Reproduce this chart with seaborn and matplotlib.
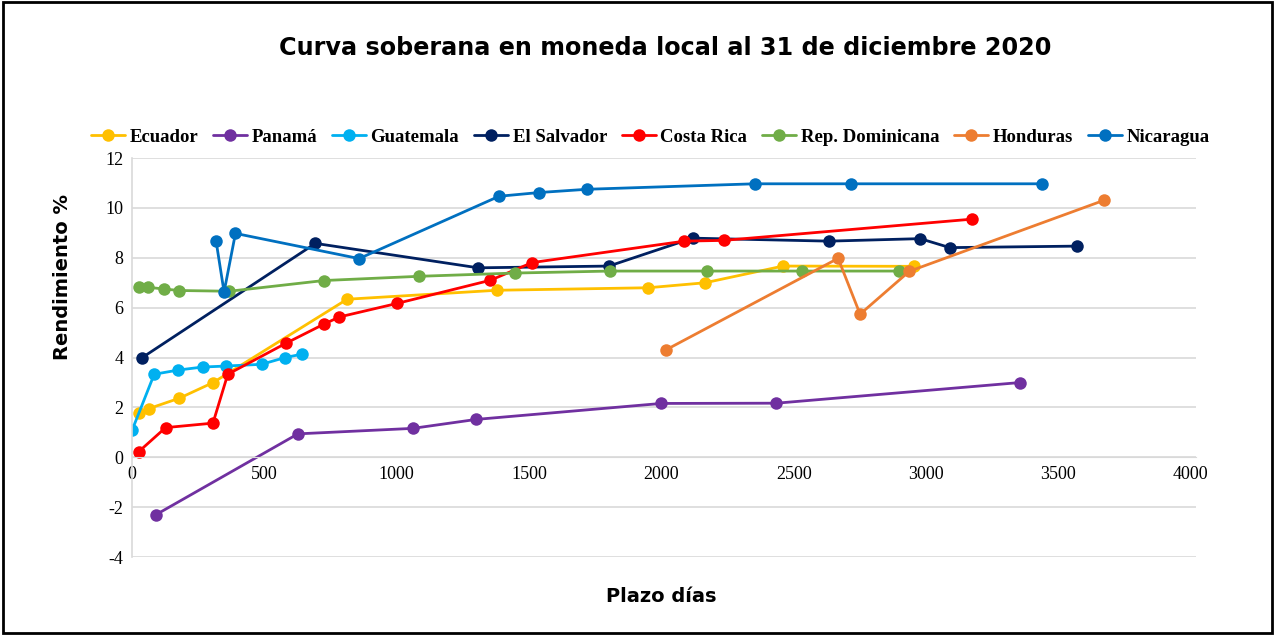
import seaborn as sns
import pandas as pd
import matplotlib.pyplot as plt
from matplotlib.patches import Rectangle

paises = ["Ecuador", "Panamá", "Guatemala", "El Salvador", "Costa Rica",
          "Rep. Dominicana", "Honduras", "Nicaragua"]
colores = ["#FFC000", "#7030A0", "#00B0F0", "#002060", "#FF0000",
           "#70AD47", "#ED7D31", "#0070C0"]

ecuador_x = [28, 63, 179, 307, 813, 1379, 1950, 2165, 2460, 2954]
ecuador_y = [1.77, 1.95, 2.37, 3.0, 6.34, 6.7, 6.8, 7.0, 7.67, 7.66]
panama_x = [91, 627, 1061, 1301, 2000, 2435, 3357]
panama_y = [-2.3, 0.94, 1.16, 1.52, 2.16, 2.17, 3.0]
guatemala_x = [1, 84, 175, 267, 355, 490, 578, 644]
guatemala_y = [1.1, 3.33, 3.5, 3.62, 3.66, 3.73, 4.0, 4.14]
salvador_x = [39, 693, 1308, 1802, 2118, 2633, 2978, 3090, 3569]
salvador_y = [4.0, 8.58, 7.6, 7.67, 8.79, 8.67, 8.77, 8.41, 8.47]
costarica_x = [26, 127, 306, 362, 581, 725, 784, 1001, 1354, 1512, 2087, 2236, 3172]
costarica_y = [0.23, 1.19, 1.37, 3.33, 4.57, 5.34, 5.63, 6.17, 7.1, 7.81, 8.67, 8.7, 9.55]
dominicana_x = [28, 60, 121, 179, 368, 725, 1086, 1447, 1807, 2171, 2533, 2897]
dominicana_y = [6.83, 6.82, 6.75, 6.69, 6.66, 7.09, 7.26, 7.39, 7.47, 7.47, 7.47, 7.47]
honduras_x = [2016, 2668, 2751, 2937, 3673]
honduras_y = [4.3, 7.98, 5.74, 7.46, 10.31]
nicaragua_x = [318, 348, 391, 858, 1387, 1539, 1719, 2353, 2715, 3437]
nicaragua_y = [8.66, 6.63, 8.98, 7.97, 10.47, 10.62, 10.75, 10.97, 10.97, 10.97]

series_x = [ecuador_x, panama_x, guatemala_x, salvador_x, costarica_x,
            dominicana_x, honduras_x, nicaragua_x]
series_y = [ecuador_y, panama_y, guatemala_y, salvador_y, costarica_y,
            dominicana_y, honduras_y, nicaragua_y]

filas = []
for p, xs, ys in zip(paises, series_x, series_y):
    for x, y in zip(xs, ys):
        filas.append({"País": p, "Plazo": x, "Rendimiento": y})
df = pd.DataFrame(filas)

sns.set_style("white")
plt.rcParams['font.family'] = ['DejaVu Sans']
plt.rcParams['axes.unicode_minus'] = False
plt.rcParams['text.color'] = 'black'
plt.rcParams['xtick.color'] = 'black'
plt.rcParams['ytick.color'] = 'black'

fig = plt.figure(figsize=(12.75, 6.35), dpi=100)
ax = fig.add_axes([0.1035, 0.1228, 0.8345, 0.6282])

sns.lineplot(data=df, x="Plazo", y="Rendimiento", hue="País", hue_order=paises,
             palette=dict(zip(paises, colores)), sort=False, estimator=None,
             marker="o", markersize=9, markeredgewidth=0, linewidth=2.0, ax=ax)

ax.set_xlim(0, 4020)
ax.set_ylim(-4, 12)
ax.set_yticks(range(-4, 13, 2))
ax.set_xticks(range(0, 4001, 500))
ax.grid(axis="y", color="#D9D9D9", linewidth=1.2)
ax.set_axisbelow(True)
for s in ["top", "right"]:
    ax.spines[s].set_visible(False)
ax.spines["bottom"].set_position(("data", 0))
ax.spines["bottom"].set_color("#D9D9D9")
ax.spines["left"].set_color("#D9D9D9")
ax.spines["left"].set_linewidth(1.2)
ax.tick_params(length=0, pad=6)
for lbl in ax.get_xticklabels() + ax.get_yticklabels():
    lbl.set_fontfamily("Liberation Serif")
    lbl.set_fontsize(13)
ax.set_xlabel("")
ax.set_ylabel("")

fig.text(0.522, 0.925, "Curva soberana en moneda local al 31 de diciembre 2020",
         ha="center", va="center", fontsize=17.2, fontweight="bold")
fig.text(0.049, 0.563, "Rendimiento %", rotation=90, ha="center", va="center",
         fontsize=14, fontweight="bold")
fig.text(0.519, 0.06, "Plazo días", ha="center", va="center",
         fontsize=14, fontweight="bold")

handles, labels = ax.get_legend_handles_labels()
ax.legend_.remove()
fig.legend(handles, labels, loc="center", bbox_to_anchor=(0.51, 0.784), ncol=8,
           frameon=False, handlelength=1.8, handletextpad=0.25, columnspacing=0.8,
           prop={"family": "Liberation Serif", "weight": "bold", "size": 13.5})

fig.patches.append(Rectangle((0.002, 0.003), 0.996, 0.994, transform=fig.transFigure,
                             fill=False, edgecolor="black", linewidth=2))

fig.savefig("out.png", dpi=100)
